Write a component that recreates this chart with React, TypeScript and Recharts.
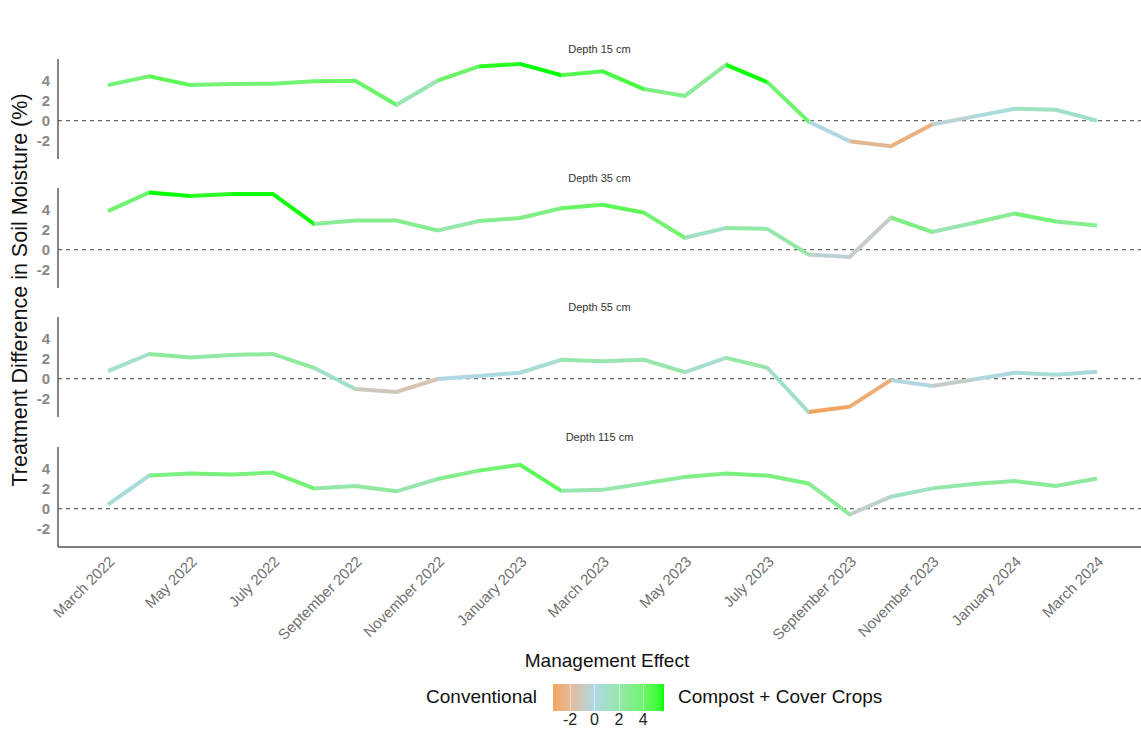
import React from "react";
import { LineChart, Line, XAxis, YAxis, ReferenceLine } from "recharts";

// monthly sampling dates
const months = [
  "March 2022", "April 2022", "May 2022", "June 2022", "July 2022", "August 2022",
  "September 2022", "October 2022", "November 2022", "December 2022", "January 2023",
  "February 2023", "March 2023", "April 2023", "May 2023", "June 2023", "July 2023",
  "August 2023", "September 2023", "October 2023", "November 2023", "December 2023",
  "January 2024", "February 2024", "March 2024",
];

// treatment difference (%) per depth
const depth15 = [3.6, 4.5, 3.6, 3.7, 3.75, 4.0, 4.05, 1.6, 4.05, 5.5, 5.75, 4.6, 5.0, 3.2, 2.5, 5.65, 3.9, -0.1, -2.1, -2.6, -0.4, 0.4, 1.2, 1.1, 0.0];
const depth35 = [3.9, 5.8, 5.45, 5.65, 5.65, 2.6, 2.95, 2.95, 1.95, 2.9, 3.2, 4.2, 4.55, 3.75, 1.2, 2.2, 2.1, -0.5, -0.75, 3.25, 1.8, 2.7, 3.65, 2.85, 2.45];
const depth55 = [0.75, 2.5, 2.15, 2.4, 2.5, 1.1, -1.05, -1.35, -0.05, 0.25, 0.6, 1.9, 1.75, 1.9, 0.65, 2.1, 1.1, -3.4, -2.85, -0.15, -0.75, -0.1, 0.6, 0.4, 0.7];
const depth115 = [0.4, 3.35, 3.55, 3.45, 3.65, 2.05, 2.3, 1.75, 3.0, 3.85, 4.45, 1.8, 1.9, 2.55, 3.2, 3.55, 3.35, 2.55, -0.6, 1.2, 2.05, 2.5, 2.8, 2.3, 3.05];

const yTicks = [-2, 0, 2, 4];
const legendTicks = [-2, 0, 2, 4];

const rows = months.map((month, i) => ({
  month,
  d15: depth15[i],
  d35: depth35[i],
  d55: depth55[i],
  d115: depth115[i],
}));

const panels = [
  { key: "d15", title: "Depth 15 cm", values: depth15, top: 59 },
  { key: "d35", title: "Depth 35 cm", values: depth35, top: 188 },
  { key: "d55", title: "Depth 55 cm", values: depth55, top: 317 },
  { key: "d115", title: "Depth 115 cm", values: depth115, top: 447 },
];

// colour scale: sandybrown -> lightblue -> green, interpolated in CIELAB
const LOW = [244, 164, 96];
const MID = [173, 216, 230];
const HIGH = [0, 255, 0];
const VMIN = -3.4;
const VMAX = 5.7;

const toLin = (c: number) => {
  const s = c / 255;
  return s <= 0.04045 ? s / 12.92 : Math.pow((s + 0.055) / 1.055, 2.4);
};
const fromLin = (l: number) => {
  const s = l <= 0.0031308 ? l * 12.92 : 1.055 * Math.pow(l, 1 / 2.4) - 0.055;
  return Math.max(0, Math.min(255, Math.round(s * 255)));
};
const XN = 0.95047, YN = 1.0, ZN = 1.08883;
const f = (t: number) => (t > 0.008856 ? Math.cbrt(t) : 7.787 * t + 16 / 116);
const fInv = (t: number) => (t > 0.206893 ? t * t * t : (t - 16 / 116) / 7.787);

function rgbToLab(rgb: number[]) {
  const [r, g, b] = rgb.map(toLin);
  const x = (0.4124 * r + 0.3576 * g + 0.1805 * b) / XN;
  const y = (0.2126 * r + 0.7152 * g + 0.0722 * b) / YN;
  const z = (0.0193 * r + 0.1192 * g + 0.9505 * b) / ZN;
  const fx = f(x), fy = f(y), fz = f(z);
  return [116 * fy - 16, 500 * (fx - fy), 200 * (fy - fz)];
}

function labToRgb(lab: number[]) {
  const fy = (lab[0] + 16) / 116;
  const fx = fy + lab[1] / 500;
  const fz = fy - lab[2] / 200;
  const x = fInv(fx) * XN, y = fInv(fy) * YN, z = fInv(fz) * ZN;
  const r = 3.2406 * x - 1.5372 * y - 0.4986 * z;
  const g = -0.9689 * x + 1.8758 * y + 0.0415 * z;
  const b = 0.0557 * x - 0.204 * y + 1.057 * z;
  return [fromLin(r), fromLin(g), fromLin(b)];
}

const LAB_LOW = rgbToLab(LOW);
const LAB_MID = rgbToLab(MID);
const LAB_HIGH = rgbToLab(HIGH);

function mix(a: number[], b: number[], t: number) {
  const c = labToRgb(a.map((v, k) => v + (b[k] - v) * t));
  return `rgb(${c[0]},${c[1]},${c[2]})`;
}

function effectColor(v: number) {
  if (v < 0) return mix(LAB_MID, LAB_LOW, Math.min(1, v / VMIN));
  return mix(LAB_MID, LAB_HIGH, Math.min(1, v / VMAX));
}

const FONT = "'Liberation Sans', Arial, sans-serif";
const W = 1141;
const PLOT_H = 100;
const AXIS_W = 58;
const XAXIS_H = 100;

// each segment takes the colour of its starting point
function SegmentGradient({ id, values }: { id: string; values: number[] }) {
  const n = values.length - 1;
  const stops: React.ReactNode[] = [];
  for (let i = 0; i < n; i++) {
    const c = effectColor(values[i]);
    stops.push(<stop key={`a${i}`} offset={i / n} stopColor={c} />);
    stops.push(<stop key={`b${i}`} offset={(i + 1) / n} stopColor={c} />);
  }
  return (
    <linearGradient id={id} x1="0" y1="0" x2="1" y2="0">
      {stops}
    </linearGradient>
  );
}

function Panel({ p, last }: { p: (typeof panels)[number]; last: boolean }) {
  const h = PLOT_H + (last ? XAXIS_H : 0);
  return (
    <div style={{ position: "absolute", left: 0, top: p.top }}>
      <LineChart width={W} height={h} data={rows} margin={{ top: 0, right: 0, bottom: 0, left: 0 }}>
        <defs>
          <SegmentGradient id={`seg-${p.key}`} values={p.values} />
        </defs>
        <XAxis
          dataKey="month"
          hide={!last}
          height={XAXIS_H}
          interval={1}
          padding={{ left: 50, right: 44 }}
          axisLine={{ stroke: "#555", strokeWidth: 1.3 }}
          tickLine={false}
          angle={-45}
          textAnchor="end"
          tick={{ fill: "#707070", fontSize: 15, fontFamily: FONT }}
        />
        <YAxis
          width={AXIS_W}
          domain={[-3.9, 6.25]}
          ticks={yTicks}
          interval={0}
          axisLine={{ stroke: "#444", strokeWidth: 1.3 }}
          tickLine={false}
          tick={{ fill: "#888", fontSize: 15, fontWeight: "bold", fontFamily: FONT }}
        />
        <ReferenceLine y={0} stroke="#666" strokeWidth={1.2} strokeDasharray="4 4" />
        <Line
          type="linear"
          dataKey={p.key}
          stroke={`url(#seg-${p.key})`}
          strokeWidth={4}
          dot={false}
          activeDot={false}
          isAnimationActive={false}
        />
      </LineChart>
      <div
        style={{
          position: "absolute",
          left: AXIS_W,
          width: W - AXIS_W,
          top: -16,
          textAlign: "center",
          fontFamily: FONT,
          fontSize: 11,
          color: "#333",
        }}
      >
        {p.title}
      </div>
    </div>
  );
}

export default function App() {
  const barX0 = 553;
  const barX1 = 664;
  const barW = barX1 - barX0;
  const toBar = (v: number) => ((v - VMIN) / (VMAX - VMIN)) * barW;
  const gradStops = Array.from({ length: 31 }, (_, k) => {
    const v = VMIN + ((VMAX - VMIN) * k) / 30;
    return `${effectColor(v)} ${(k / 30) * 100}%`;
  }).join(", ");

  return (
    <div
      style={{
        position: "absolute",
        left: 0,
        top: 0,
        width: W,
        height: 730,
        background: "#fff",
        overflow: "hidden",
        fontFamily: FONT,
      }}
    >
      {panels.map((p, i) => (
        <Panel key={p.key} p={p} last={i === panels.length - 1} />
      ))}

      <div
        style={{
          position: "absolute",
          left: 20,
          top: 290,
          transform: "translate(-50%, -50%) rotate(-90deg)",
          whiteSpace: "nowrap",
          fontSize: 21.5,
          color: "#111",
        }}
      >
        Treatment Difference in Soil Moisture (%)
      </div>

      <div style={{ position: "absolute", left: 0, width: 1214, top: 650, textAlign: "center", fontSize: 19, color: "#111" }}>
        Management Effect
      </div>
      <div style={{ position: "absolute", right: W - 537, top: 686, fontSize: 19, color: "#111" }}>Conventional</div>
      <div style={{ position: "absolute", left: 678, top: 686, fontSize: 19, color: "#111" }}>Compost + Cover Crops</div>
      <div
        style={{
          position: "absolute",
          left: barX0,
          top: 684,
          width: barW,
          height: 27,
          background: `linear-gradient(to right, ${gradStops})`,
        }}
      >
        {legendTicks.map((t) => (
          <div
            key={t}
            style={{ position: "absolute", left: toBar(t), top: 0, width: 1, height: 27, background: "rgba(255,255,255,0.5)" }}
          />
        ))}
      </div>
      {legendTicks.map((t) => (
        <div
          key={t}
          style={{
            position: "absolute",
            left: barX0 + toBar(t) - 15,
            width: 30,
            top: 711,
            textAlign: "center",
            fontSize: 16,
            color: "#222",
          }}
        >
          {t}
        </div>
      ))}
    </div>
  );
}
